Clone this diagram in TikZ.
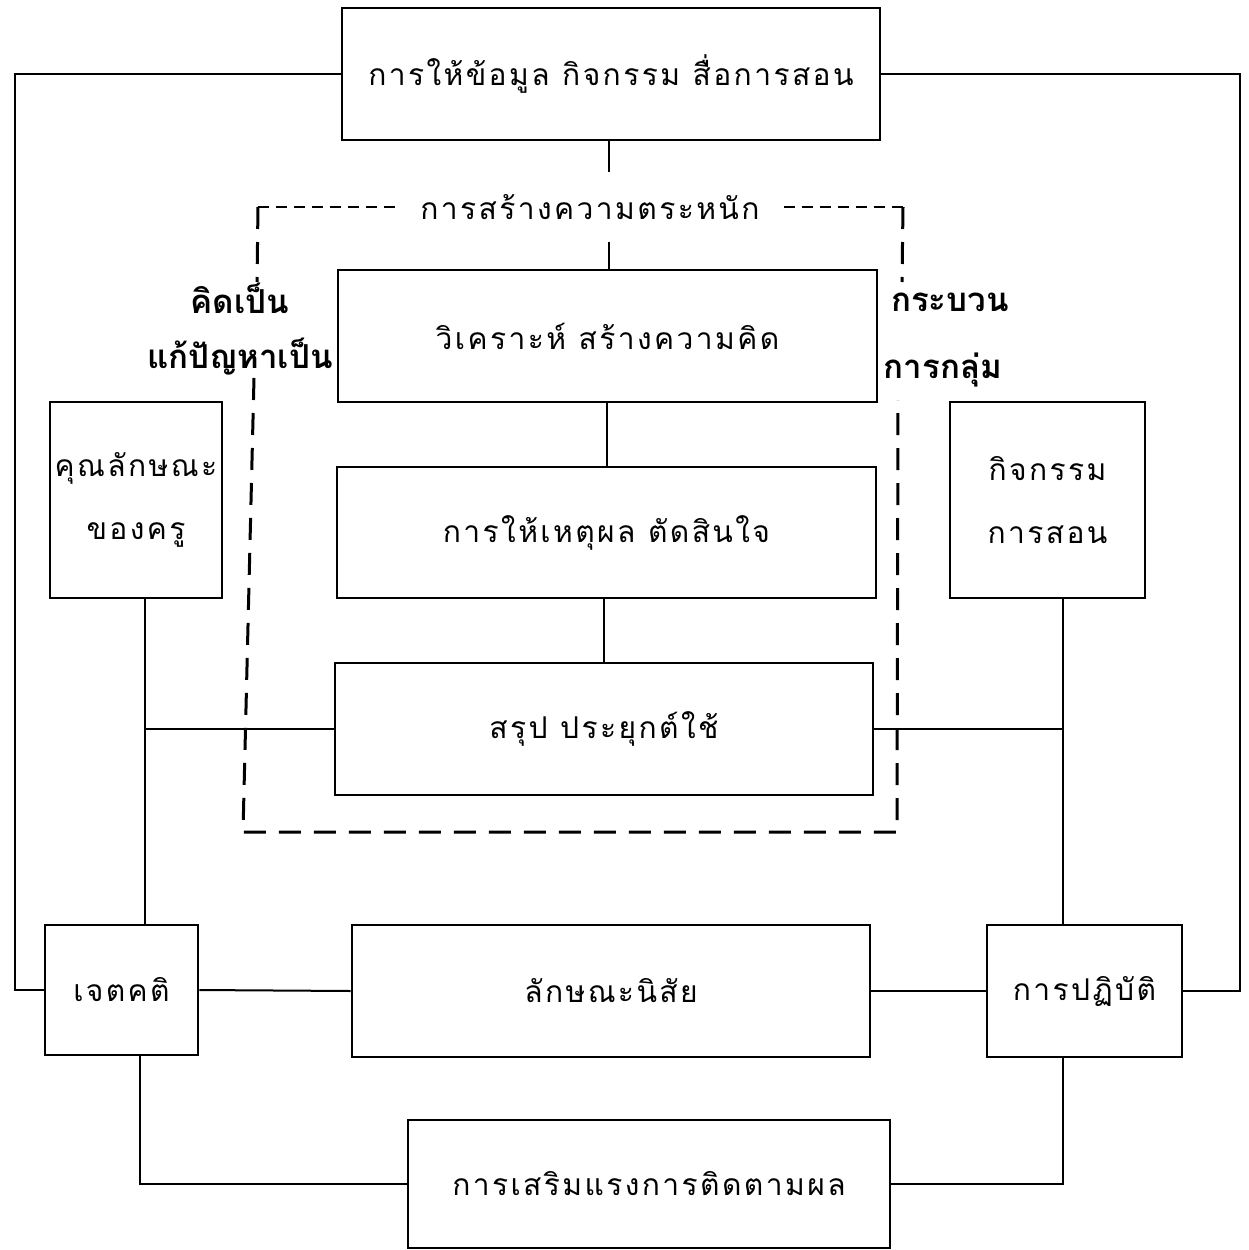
\documentclass[tikz,border=0pt]{standalone}
\usepackage{fontspec}
\newfontfamily\thai[Script=Thai,LetterSpace=8]{Loma}
\newfontfamily\thaib[Script=Thai]{Loma}
\usetikzlibrary{calc}
\begin{document}
\begin{tikzpicture}[x=1pt,y=-1pt,
  box/.style={draw, line width=2.6pt, inner sep=0pt, font=\thai\fontsize{30}{63}\selectfont, align=center},
  conn/.style={line width=2pt},
  dsh/.style={line width=3pt, dash pattern=on 22pt off 13pt},
  dshs/.style={line width=2.4pt, dash pattern=on 11pt off 7pt},
  lbl/.style={inner xsep=24pt, inner ysep=22pt, font=\thai\fontsize{30}{60}\selectfont},
  blbl/.style={inner sep=0pt, font=\thaib\bfseries\fontsize{33}{60}\selectfont}]
\useasboundingbox (0,0) rectangle (1248,1250);
\node[box, minimum width=538pt, minimum height=132pt] (top) at (611,74) {การให้ข้อมูล กิจกรรม สื่อการสอน};
\node[lbl] (aware) at (590,207) {การสร้างความตระหนัก};
\node[box, minimum width=539pt, minimum height=132pt] (b1) at (607.5,336) {วิเคราะห์ สร้างความคิด};
\node[box, minimum width=539pt, minimum height=131pt] (b2) at (606.5,532.5) {การให้เหตุผล ตัดสินใจ};
\node[box, minimum width=538pt, minimum height=132pt] (b3) at (604,729) {สรุป ประยุกต์ใช้};
\node[box, minimum width=172pt, minimum height=196pt] (lbox) at (136,500) {คุณลักษณะ\\ของครู};
\node[box, minimum width=195pt, minimum height=196pt] (rbox) at (1047.5,500) {กิจกรรม\\การสอน};
\node[box, minimum width=153pt, minimum height=130pt] (jet) at (121.5,990) {เจตคติ};
\node[box, minimum width=518pt, minimum height=132pt] (nisai) at (611,991) {ลักษณะนิสัย};
\node[box, minimum width=195pt, minimum height=132pt] (pati) at (1084.5,991) {การปฏิบัติ};
\node[box, minimum width=482pt, minimum height=128pt] (bot) at (649,1184) {การเสริมแรงการติดตามผล};
\node[blbl] (k1) at (240,298) {คิดเป็น};
\node[blbl] (k2) at (240,357) {แก้ปัญหาเป็น};
\node[blbl] (g1) at (950,302) {กระบวน};
\node[blbl] (g2) at (943,370) {การกลุ่ม};
% dashed frame
\coordinate (tl) at (258,207);
\coordinate (tr) at (903,207);
\coordinate (br) at (897,832);
\coordinate (bl) at (243,832);
\draw[dshs] (tl) -- (aware.west);
\draw[dshs] (aware.east) -- (tr);
\draw[dsh] (tl) -- (257,282);
\draw[dsh] (254,378) -- (bl) -- (br) -- (898,400);
\draw[dsh] (tr) -- (902,282);
% connectors
\coordinate (lx) at (145,0);
\coordinate (rx) at (1063,0);
\coordinate (bx) at (140,0);
\coordinate (ol) at (15,0);
\coordinate (or) at (1240,0);
\coordinate (tc) at (609,0);
\draw[conn] (top.south -| tc) -- (aware.north -| tc);
\draw[conn] (aware.south -| tc) -- (b1.north -| tc);
\draw[conn] (b1.south -| 607,0) -- (b2.north -| 607,0);
\draw[conn] (b2.south -| 604,0) -- (b3.north -| 604,0);
\draw[conn] (lbox.south -| lx) -- (jet.north -| lx);
\draw[conn] (b3.west) -- (b3.west -| lx);
\draw[conn] (rbox.south -| rx) -- (pati.north -| rx);
\draw[conn] (b3.east) -- (b3.east -| rx);
\draw[conn] (jet.east) -- (nisai.west);
\draw[conn] (nisai.east) -- (pati.west);
\draw[conn] (top.west) -| (ol |- jet.west) -- (jet.west);
\draw[conn] (top.east) -| (or |- pati.east) -- (pati.east);
\draw[conn] (jet.south -| bx) |- (bot.west);
\draw[conn] (pati.south -| rx) |- (bot.east);
\end{tikzpicture}
\end{document}
